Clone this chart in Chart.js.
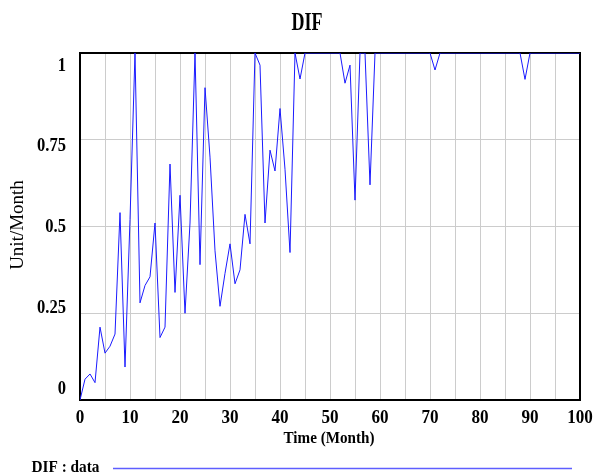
<!DOCTYPE html>
<html>
<head>
<meta charset="utf-8">
<script src="https://cdn.jsdelivr.net/npm/chart.js@4/dist/chart.umd.min.js"></script>
<style>
  html, body { margin: 0; padding: 0; background: #ffffff; }
  #wrap { width: 593px; height: 476px; position: relative; }
</style>
</head>
<body>
<div id="wrap"><canvas id="c" width="593" height="476"></canvas></div>
<script>
const chartTitle = "DIF";
const xAxisTitle = "Time (Month)";
const yAxisTitle = "Unit/Month";
const seriesLabel = "DIF : data";

const months = [0,1,2,3,4,5,6,7,8,9,10,11,12,13,14,15,16,17,18,19,20,
  21,22,23,24,25,26,27,28,29,30,31,32,33,34,35,36,37,38,39,40,
  41,42,43,44,45,46,47,48,49,50,51,52,53,54,55,56,57,58,59,60,
  61,62,63,64,65,66,67,68,69,70,71,72,73,74,75,76,77,78,79,80,
  81,82,83,84,85,86,87,88,89,90,91,92,93,94,95,96,97,98,99,100];

const difValues = [0,0.06,0.075,0.05,0.21,0.135,0.155,0.19,0.54,0.095,0.52,
  1,0.28,0.33,0.355,0.51,0.18,0.21,0.68,0.31,0.59,
  0.25,0.51,1,0.39,0.9,0.7,0.43,0.27,0.365,0.45,
  0.335,0.375,0.535,0.45,1,0.965,0.51,0.72,0.66,0.84,
  0.665,0.425,1,0.925,1,1,1,1,1,1,
  1,1,0.913,0.965,0.576,1,1,0.62,1,1,
  1,1,1,1,1,1,1,1,1,1,
  0.951,1,1,1,1,1,1,1,1,1,
  1,1,1,1,1,1,1,1,0.924,1,
  1,1,1,1,1,1,1,1,1,1];

const xTicks = [0,10,20,30,40,50,60,70,80,90,100];
const yTicks = [0,0.25,0.5,0.75,1];
const yTickLabels = ["0","0.25","0.5","0.75","1"];

function txt(ctx, s, x, y, font, align, sx) {
  ctx.save();
  ctx.translate(x, y);
  ctx.scale(sx, 1);
  ctx.font = font;
  ctx.fillStyle = "#000000";
  ctx.textAlign = align;
  ctx.textBaseline = "middle";
  ctx.fillText(s, 0, 0);
  ctx.restore();
}

const framePlugin = {
  id: "frame",
  beforeDatasetsDraw(chart) {
    const ctx = chart.ctx, a = chart.chartArea;
    ctx.save();
    ctx.strokeStyle = "#000000";
    ctx.lineWidth = 2;
    ctx.strokeRect(a.left, a.top, a.right - a.left, a.bottom - a.top);
    ctx.restore();
  },
  afterDraw(chart) {
    const ctx = chart.ctx, a = chart.chartArea;
    const xs = chart.scales.x, ys = chart.scales.y;
    const serif = '"Liberation Serif", "Times New Roman", serif';
    // title
    txt(ctx, chartTitle, 307, 24, "bold 25px " + serif, "center", 0.72);
    // y tick labels (kept inside plot height like the reference)
    const lo = a.top + 13, hi = a.bottom - 11;
    yTicks.forEach((v, i) => {
      const p = ys.getPixelForValue(v);
      const yy = lo + (p - a.top) * (hi - lo) / (a.bottom - a.top);
      txt(ctx, yTickLabels[i], 66, yy, "bold 18px " + serif, "right", 0.92);
    });
    // x tick labels
    xTicks.forEach(v => {
      txt(ctx, String(v), xs.getPixelForValue(v), 418, "bold 18px " + serif, "center", 0.95);
    });
    // axis titles
    txt(ctx, xAxisTitle, (a.left + a.right) / 2 - 1, 439, "bold 17px " + serif, "center", 0.89);
    ctx.save();
    ctx.translate(18.5, 225);
    ctx.rotate(-Math.PI / 2);
    ctx.font = "19px " + serif;
    ctx.fillStyle = "#000000";
    ctx.textAlign = "center";
    ctx.textBaseline = "middle";
    ctx.fillText(yAxisTitle, 0, 0);
    ctx.restore();
    // legend
    txt(ctx, seriesLabel, 31.5, 468, "bold 17px " + serif, "left", 0.9);
    ctx.save();
    ctx.strokeStyle = "rgba(40,40,255,0.75)";
    ctx.lineWidth = 1.5;
    ctx.beginPath();
    ctx.moveTo(113, 468.5);
    ctx.lineTo(572, 468.5);
    ctx.stroke();
    ctx.restore();
  }
};

new Chart(document.getElementById("c"), {
  type: "line",
  data: {
    datasets: [{
      label: seriesLabel,
      data: months.map((m, i) => ({ x: m, y: difValues[i] })),
      borderColor: "#1a1aff",
      borderWidth: 1,
      pointRadius: 0,
      tension: 0,
      fill: false
    }]
  },
  options: {
    responsive: false,
    animation: false,
    devicePixelRatio: 1,
    layout: { padding: { left: 0, right: 13, top: 53, bottom: 0 } },
    plugins: { legend: { display: false }, title: { display: false }, tooltip: { enabled: false } },
    scales: {
      x: {
        type: "linear", min: 0, max: 100,
        ticks: { display: false, stepSize: 5 },
        grid: { color: "#cccccc", lineWidth: 1, drawTicks: false },
        border: { display: false },
        afterFit(s) { s.height = 76; }
      },
      y: {
        type: "linear", min: 0, max: 1,
        ticks: { display: false, stepSize: 0.25 },
        grid: { color: "#cccccc", lineWidth: 1, drawTicks: false },
        border: { display: false },
        afterFit(s) { s.width = 80; }
      }
    }
  },
  plugins: [framePlugin]
});
</script>
</body>
</html>
